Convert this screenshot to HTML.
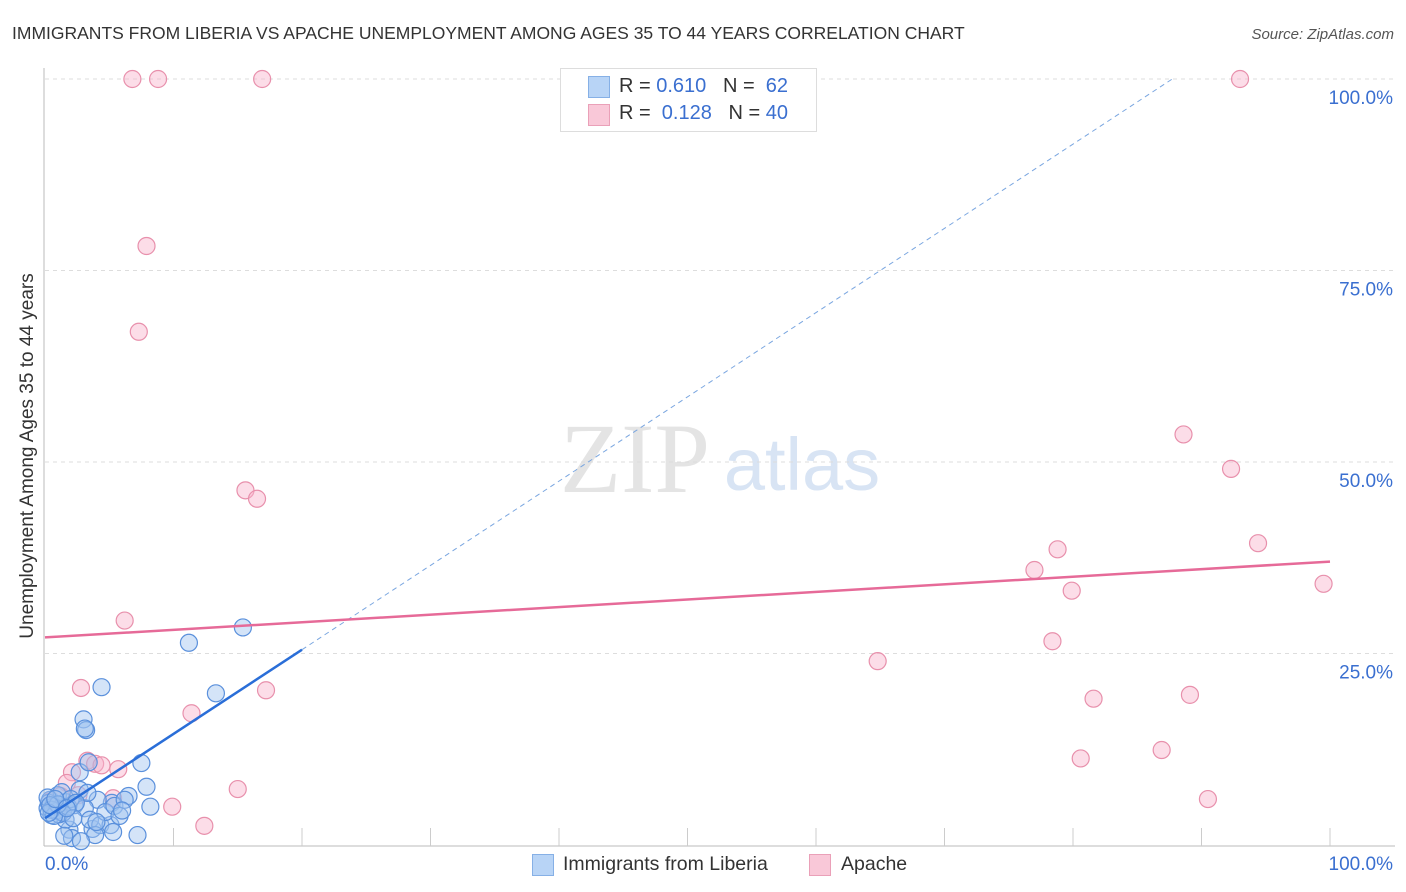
<!DOCTYPE html>
<html><head><meta charset="utf-8">
<style>
body{margin:0;background:#fff;font-family:"Liberation Sans",sans-serif;}
#wrap{position:relative;width:1406px;height:892px;overflow:hidden;}
</style></head>
<body>
<div id="wrap">
<svg id="svg" width="1406" height="892" xmlns="http://www.w3.org/2000/svg">
<text x="12" y="39" font-size="17.5" fill="#333">IMMIGRANTS FROM LIBERIA VS APACHE UNEMPLOYMENT AMONG AGES 35 TO 44 YEARS CORRELATION CHART</text>
<text x="1394" y="39" font-size="15" fill="#555" font-style="italic" text-anchor="end">Source: ZipAtlas.com</text>
<text x="33" y="456" font-size="19" fill="#333" text-anchor="middle" transform="rotate(-90 33 456)">Unemployment Among Ages 35 to 44 years</text>
<g><text x="635" y="492" font-size="100" fill="#e4e4e4" font-family="Liberation Serif,serif" text-anchor="middle">ZIP</text><text x="802" y="490" font-size="74" fill="#d8e4f4" text-anchor="middle">atlas</text></g>
<g id="grid"></g><g id="marks"></g>
</svg>
<div style="position:absolute;left:560px;top:68px;width:255px;height:62px;border:1px solid #ddd;background:#fff;font-size:20px;color:#333">
<div style="position:absolute;left:27px;top:7px;width:20px;height:20px;background:#b8d4f6;border:1px solid #86b0e6"></div>
<div style="position:absolute;left:58px;top:6px">R = <span style="color:#3a6fd0">0.610</span>&nbsp;&nbsp;&nbsp;N = &nbsp;<span style="color:#3a6fd0">62</span></div>
<div style="position:absolute;left:27px;top:35px;width:20px;height:20px;background:#f9c8d8;border:1px solid #eaa0b8"></div>
<div style="position:absolute;left:58px;top:33px">R = &nbsp;<span style="color:#3a6fd0">0.128</span>&nbsp;&nbsp;&nbsp;N = <span style="color:#3a6fd0">40</span></div>
</div>
<div style="position:absolute;left:530px;top:852px;font-size:19.5px;color:#333;width:420px;height:26px">
<div style="position:absolute;left:2px;top:2px;width:20px;height:20px;background:#b8d4f6;border:1px solid #86b0e6"></div>
<div style="position:absolute;left:33px;top:1px">Immigrants from Liberia</div>
<div style="position:absolute;left:279px;top:2px;width:20px;height:20px;background:#f9c8d8;border:1px solid #eaa0b8"></div>
<div style="position:absolute;left:311px;top:1px">Apache</div>
</div>
</div>
<script>
const yTicks=[25,50,75,100];
const yTickLabels=["25.0%","50.0%","75.0%","100.0%"];
const blueX=[11.2,15.4,4.4,13.3,3.0,3.2,3.1,7.5,7.9,8.2,6.5,2.7,3.4,7.2,5.2,4.1,3.7,1.9,2.1,1.2,0.8,0.4,0.2,0.5,1.6,2.3,3.1,3.5,4.3,5.1,5.3,3.9,1.6,1.0,1.3,2.7,3.3,4.7,5.4,5.8,6.2,0.3,0.6,0.9,1.1,1.4,1.8,2.0,2.4,0.2,0.5,0.7,1.0,0.3,1.5,2.8,4.0,6.0,0.4,0.8,2.2,1.7];
const blueY=[26.4,28.4,20.6,19.8,16.4,15.0,15.2,10.7,7.6,5.0,6.4,9.5,10.8,1.3,5.5,5.9,2.1,2.0,0.9,4.3,5.2,5.9,4.8,3.9,5.6,5.2,4.8,3.3,2.6,2.6,1.7,1.3,3.3,6.5,6.9,7.2,6.8,4.3,5.1,3.8,5.9,5.5,5.0,4.5,4.0,4.2,5.0,6.0,5.5,6.2,4.6,3.8,5.3,4.2,1.2,0.5,3.0,4.5,5.2,6.0,3.5,4.8];
const pinkX=[6.8,8.8,16.9,93.0,7.9,7.3,15.6,16.5,6.2,17.2,11.4,2.8,15.0,12.4,9.9,88.6,92.3,94.4,78.8,77.0,79.9,99.5,64.8,78.4,81.6,89.1,86.9,80.6,90.5,3.3,3.9,4.4,5.7,5.3,2.1,1.7,1.2,0.4,0.8,2.6];
const pinkY=[100,100,100,100,78.2,67.0,46.3,45.2,29.3,20.2,17.2,20.5,7.3,2.5,5.0,53.6,49.1,39.4,38.6,35.9,33.2,34.1,24.0,26.6,19.1,19.6,12.4,11.3,6.0,11.0,10.6,10.4,9.9,6.1,9.5,8.1,6.4,5.7,5.0,6.5];
const blueTrend=[3.5,1.1];
const pinkTrend=[27.1,37.0];
const X=v=>45+v*12.85, Y=v=>845-v*7.66;
const ns="http://www.w3.org/2000/svg";
function mk(t,a,p){const e=document.createElementNS(ns,t);for(const k in a)e.setAttribute(k,a[k]);p.appendChild(e);return e;}
const g=document.getElementById('grid'),m=document.getElementById('marks');
yTicks.forEach((t,i)=>{
 const l=mk('line',{x1:45,x2:1395,y1:Y(t),y2:Y(t),stroke:'#ddd','stroke-dasharray':'4,4'},g);
 
 
 const tx=mk('text',{x:1393,y:Y(t)+25,'font-size':19,fill:'#3a6fd0','text-anchor':'end'},g);
 tx.textContent=yTickLabels[i];
 
 
});
const ax=mk('line',{x1:44,x2:44,y1:68,y2:846,stroke:'#bbb'},g);


const bx=mk('line',{x1:44,x2:1395,y1:846,y2:846,stroke:'#bbb'},g);


for(let i=1;i<=10;i++){const t=mk('line',{x1:X(i*10),x2:X(i*10),y1:828,y2:846,stroke:'#ccc'},g);
 
 }
[[0,"0.0%","start",45],[100,"100.0%","end",1393]].forEach(a=>{const t=mk('text',{x:a[3],y:870,'font-size':19,fill:'#3a6fd0','text-anchor':a[2]},g);t.textContent=a[1];
 
 });
pinkX.forEach((x,i)=>{const c=mk('circle',{cx:X(x),cy:Y(pinkY[i]),r:8.5,fill:'rgba(248,180,204,0.45)',stroke:'#e890ac','stroke-width':1.2},m);
 
 });
blueX.forEach((x,i)=>{const c=mk('circle',{cx:X(x),cy:Y(blueY[i]),r:8.5,fill:'rgba(160,196,240,0.45)',stroke:'#5a90dc','stroke-width':1.2},m);
 
 });
const xEnd=(100-blueTrend[0])/blueTrend[1];
const bd=mk('line',{x1:X(20),y1:Y(blueTrend[0]+blueTrend[1]*20),x2:X(xEnd),y2:Y(100),stroke:'#7aa6e0','stroke-width':1,'stroke-dasharray':'5,4'},m);


const bl=mk('line',{x1:X(0),y1:Y(blueTrend[0]),x2:X(20),y2:Y(blueTrend[0]+blueTrend[1]*20),stroke:'#2a6ed8','stroke-width':2.5},m);


const pl=mk('line',{x1:X(0),y1:Y(pinkTrend[0]),x2:X(100),y2:Y(pinkTrend[1]),stroke:'#e66a98','stroke-width':2.5},m);


</script>
</body></html>
